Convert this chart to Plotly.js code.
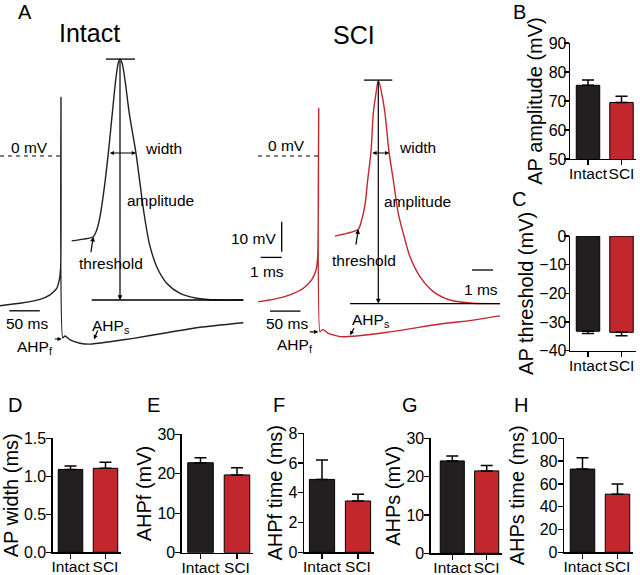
<!DOCTYPE html>
<html><head><meta charset="utf-8">
<script src="https://cdn.plot.ly/plotly-3.0.1.min.js"></script>
<style>html,body{margin:0;padding:0;background:#fff}</style>
</head><body><div id="chart" style="width:640px;height:575px"></div>
<script>
// ---- Panel A traces: time (ms, relative to spike / peak) and voltage (mV) ----
const intactSlowT = [-100,-67.2,-34.4,-18.0,-7.0,-2.8,-0.5,0,2.8,6.6,14.8,31.1,47.5,80.3,118.5,173.3,227.9,298.9];
const intactSlowV = [-49.9,-49.1,-47.8,-46.3,-44.1,-41.3,-36.9,19.6,-60.6,-60.0,-61.3,-62.4,-62.7,-61.9,-60.8,-58.9,-57.1,-55.6];
const intactFastT = [-2.300,-1.748,-1.271,-1.110,-0.952,-0.762,-0.557,-0.367,-0.205,-0.081,0,0.095,0.238,0.443,0.762,0.952,1.143,1.395,1.748,2.224,2.857,3.652,4.605,5.871];
const intactFastV = [-28.3,-27.7,-26.9,-24.7,-20.2,-11.3,0.9,14.2,25.3,31.1,32.3,31.1,25.3,14.2,0.9,-9.1,-19.1,-29.1,-36.9,-42.4,-45.8,-47.4,-48.0,-48.0];
const sciSlowT = [-99.0,-74.4,-47.0,-25.2,-11.5,-4.4,-1.6,0,2.1,6.6,15.7,34.9,62.3,100.5,144.3,198.9,253.4,297.2];
const sciSlowV = [-48.6,-47.8,-46.3,-44.1,-41.3,-38.0,-33.6,15.9,-58.6,-57.8,-59.1,-60.2,-60.0,-59.1,-57.8,-56.0,-54.7,-53.3];
const sciFastT = [-2.062,-1.505,-0.952,-0.790,-0.633,-0.505,-0.348,-0.238,-0.110,0,0.162,0.319,0.510,0.714,0.952,1.190,1.510,1.986,2.619,3.414,4.524,5.795];
const sciFastV = [-26.7,-25.8,-24.4,-21.3,-16.3,-8.0,1.4,14.2,20.9,25.3,20.9,14.2,1.4,-8.0,-19.1,-25.8,-33.6,-40.2,-45.2,-48.0,-49.1,-49.2];
const intactThresholdIdx = 2;
const sciThresholdIdx = 2;

// ---- Bar panels (mean, SEM) ----
const groups = ['Intact','SCI'];
const apAmplitude = [75.4, 69.5];      const apAmplitudeErr = [1.8, 2.1];
const apThreshold = [-33.2, -33.6];    const apThresholdErr = [0.8, 1.2];
const apWidth = [1.09, 1.105];         const apWidthErr = [0.045, 0.08];
const ahpf = [22.8, 19.7];             const ahpfErr = [1.25, 1.8];
const ahpfTime = [4.9, 3.45];          const ahpfTimeErr = [1.3, 0.45];
const ahps = [24.1, 21.5];             const ahpsErr = [1.3, 1.4];
const ahpsTime = [73, 51];             const ahpsTimeErr = [10, 9];

const W = 640, H = 575;
const px = x => x / W, py = y => 1 - y / H;
const BLACK = '#231f20', RED = '#c1272d';
const FONT = 'Liberation Sans, Arial, sans-serif';

// Panel A axes: pixel anchors for scales (0.61 px/ms slow, 21 px/ms fast, 3 px/mV)
const slowPx = 0.61, fastPx = 21;
function tAxis(t0px, k) { return {range: [-t0px / k, (W - t0px) / k], domain: [0, 1], visible: false, fixedrange: true}; }

const data = [
  {x: intactSlowT, y: intactSlowV, xaxis: 'x', yaxis: 'y', type: 'scatter', mode: 'lines',
   line: {color: BLACK, width: 1.4, shape: 'spline', smoothing: 0.5}, hoverinfo: 'skip'},
  {x: intactFastT, y: intactFastV, xaxis: 'x3', yaxis: 'y', type: 'scatter', mode: 'lines',
   line: {color: BLACK, width: 1.4, shape: 'spline', smoothing: 0.8}, hoverinfo: 'skip'},
  {x: sciSlowT, y: sciSlowV, xaxis: 'x2', yaxis: 'y', type: 'scatter', mode: 'lines',
   line: {color: RED, width: 1.4, shape: 'spline', smoothing: 0.5}, hoverinfo: 'skip'},
  {x: sciFastT, y: sciFastV, xaxis: 'x4', yaxis: 'y', type: 'scatter', mode: 'lines',
   line: {color: RED, width: 1.4, shape: 'spline', smoothing: 0.8}, hoverinfo: 'skip'}
];

const layout = {
  width: W, height: H, margin: {l: 0, r: 0, t: 0, b: 0},
  paper_bgcolor: '#fff', plot_bgcolor: 'rgba(0,0,0,0)', showlegend: false,
  font: {family: FONT, color: '#000', size: 15.5},
  xaxis: tAxis(61, slowPx),
  xaxis2: Object.assign(tAxis(318.7, slowPx), {overlaying: 'x', anchor: 'y'}),
  xaxis3: Object.assign(tAxis(120, fastPx), {overlaying: 'x', anchor: 'y'}),
  xaxis4: Object.assign(tAxis(378.3, fastPx), {overlaying: 'x', anchor: 'y'}),
  yaxis: {range: [-(H - 156) / 3, 156 / 3], domain: [0, 1], visible: false, fixedrange: true},
  shapes: [], annotations: []
};

// ---- Bar panels ----
const panels = [
  {letter: 'B', lp: [519, 12], vals: apAmplitude, err: apAmplitudeErr, neg: false, left: 570, c0: 588, c1: 621.5, ytop: 43, ybot: 159, yr: [50, 90], dtick: 10, fmt: '', title: 'AP amplitude (mV)', so: -6},
  {letter: 'C', lp: [519, 199], vals: apThreshold, err: apThresholdErr, neg: true, left: 570, c0: 588, c1: 621.5, ytop: 236, ybot: 350.7, yr: [-40, 0], dtick: 10, fmt: '', title: 'AP threshold (mV)', so: -6},
  {letter: 'D', lp: [15, 405], vals: apWidth, err: apWidthErr, neg: false, left: 52.7, c0: 70.5, c1: 105.5, ytop: 438.3, ybot: 552.3, yr: [0, 1.5], dtick: 0.5, fmt: '.1f', title: 'AP width (ms)', so: -3},
  {letter: 'E', lp: [153, 405], vals: ahpf, err: ahpfErr, neg: false, left: 181.7, c0: 200.5, c1: 237, ytop: 434.3, ybot: 552.7, yr: [0, 30], dtick: 10, fmt: '', title: 'AHPf (mV)', so: -3},
  {letter: 'F', lp: [279, 405], vals: ahpfTime, err: ahpfTimeErr, neg: false, left: 304, c0: 322, c1: 358, ytop: 433.3, ybot: 552.3, yr: [0, 8], dtick: 2, fmt: '', title: 'AHPf time (ms)', so: -3},
  {letter: 'G', lp: [410, 405], vals: ahps, err: ahpsErr, neg: false, left: 430.7, c0: 452.3, c1: 486.7, ytop: 438.3, ybot: 553.3, yr: [0, 30], dtick: 10, fmt: '', title: 'AHPs (mV)', so: -3},
  {letter: 'H', lp: [521, 405], vals: ahpsTime, err: ahpsTimeErr, neg: false, left: 564, c0: 582.5, c1: 617.5, ytop: 438.3, ybot: 552.3, yr: [0, 100], dtick: 20, fmt: '', title: 'AHPs time (ms)', so: -3}
];

panels.forEach((p, i) => {
  const xi = i + 5, yi = i + 2;
  const sp = p.c1 - p.c0;
  const lo = -(p.c0 - p.left) / sp, hi = 1.44;
  layout['xaxis' + xi] = {
    domain: [px(p.left), px(p.c1 + (hi - 1) * sp)], range: [lo, hi], type: 'category',
    anchor: 'y' + yi, showline: true, linecolor: '#000', linewidth: 1.3,
    ticks: 'outside', ticklen: 5, tickwidth: 1.3, tickcolor: '#000', tickangle: 0, ticklabelstandoff: -5,
    tickfont: {size: 15.5, color: '#000'}, showgrid: false, zeroline: false, fixedrange: true
  };
  layout['yaxis' + yi] = {
    domain: [py(p.ybot), py(p.ytop)], range: p.yr, anchor: 'x' + xi,
    showline: true, linecolor: '#000', linewidth: 1.3,
    ticks: 'outside', ticklen: 5, tickwidth: 1.3, tickcolor: '#000', dtick: p.dtick, tick0: 0,
    ticklabelstandoff: p.so,
    tickformat: p.fmt, tickfont: {size: 16, color: '#000'}, showgrid: false, zeroline: false, fixedrange: true,
    title: {text: p.title, font: {size: 20, color: '#000'}, standoff: 0}
  };
  const zeros = p.vals.map(() => 0);
  data.push({
    type: 'bar', x: groups, y: p.vals, xaxis: 'x' + xi, yaxis: 'y' + yi, width: 0.7,
    marker: {color: [BLACK, RED], line: {color: '#000', width: 1}},
    error_y: {type: 'data', symmetric: false, array: p.neg ? zeros : p.err, arrayminus: p.neg ? p.err : zeros,
              color: '#000', thickness: 1.5, width: 6},
    hoverinfo: 'skip'
  });
  layout.annotations.push({text: p.letter, xref: 'paper', yref: 'paper', x: px(p.lp[0]), y: py(p.lp[1]),
    xanchor: 'center', yanchor: 'middle', showarrow: false, font: {size: 20}});
});

// ---- Panel A shapes & annotations ----
const sh = layout.shapes, an = layout.annotations;
function crossing(T, V, level) {
  const out = [];
  for (let k = 0; k < T.length - 1; k++) {
    if ((V[k] - level) * (V[k + 1] - level) <= 0 && V[k] !== V[k + 1]) {
      out.push(T[k] + (level - V[k]) * (T[k + 1] - T[k]) / (V[k + 1] - V[k]));
    }
  }
  return out;
}
function lineShape(xref, x0, x1, y0, y1, extra) {
  sh.push(Object.assign({type: 'line', xref: xref, yref: 'y', x0: x0, x1: x1, y0: y0, y1: y1,
    line: {color: '#000', width: 1.3}}, extra || {}));
}
function txt(text, x, y, anchor, size) {
  an.push({text: text, xref: 'paper', yref: 'paper', x: px(x), y: py(y), xanchor: anchor || 'left',
    yanchor: 'middle', showarrow: false, font: {size: size || 15.5}});
}
function arrow(xref, x, y, ax, ay, extra) {
  an.push(Object.assign({text: '', xref: xref, yref: 'y', x: x, y: y, ax: ax, ay: ay, showarrow: true,
    arrowhead: 2, arrowsize: 0.8, arrowwidth: 1.2, arrowcolor: '#000', standoff: 0, startstandoff: 0}, extra || {}));
}

function decorate(slowX, fastX, T, V, thrIdx, peakHalf, baseStart) {
  const peakV = Math.max(...V), peakT = T[V.indexOf(peakV)];
  const baseV = V[V.length - 1];
  lineShape(fastX, peakT - peakHalf[0], peakT + peakHalf[1], peakV, peakV);
  lineShape(fastX, baseStart, T[T.length - 1], baseV, baseV);
  arrow(fastX, peakT, baseV, peakT, peakV, {axref: fastX, ayref: 'y'});
  const wLevel = 1;
  const c = crossing(T, V, wLevel);
  arrow(fastX, c[c.length - 1], wLevel, c[0], wLevel, {axref: fastX, ayref: 'y', arrowside: 'end+start', arrowsize: 0.7});
  arrow(fastX, T[thrIdx], V[thrIdx], -2.6, 17);
}
decorate('x', 'x3', intactFastT, intactFastV, intactThresholdIdx, [0.667, 0.714], -1.348);
decorate('x2', 'x4', sciFastT, sciFastV, sciThresholdIdx, [0.681, 0.667], -1.348);

// 0 mV dashed lines
lineShape('x', -100, 0, 0, 0, {line: {color: '#000', width: 1.2, dash: '4px,4px'}});
lineShape('x2', -99.5, 0, 0, 0, {line: {color: '#000', width: 1.2, dash: '4px,4px'}});
// scale bars: 50 ms (slow), 10 mV and 1 ms (fast)
lineShape('x', -84.8, -34.8, -51.6, -51.6);
lineShape('x2', -79.8, -29.8, -51.7, -51.7);
lineShape('x4', -4.6, -4.6, -21.9, -31.9);
lineShape('x4', -5.6, -4.6, -33.8, -33.8);
lineShape('x4', 4.46, 5.46, -38, -38);

// AHP arrows
arrow('x', 1.15, -61, -8.4, 0, {arrowsize: 0.7});
arrow('x', 54.1, -61.1, 4.3, -10.3, {arrowsize: 0.7});
arrow('x2', -0.66, -58.6, -10, 0, {arrowsize: 0.7});
arrow('x2', 51.3, -59.7, 5, -8.3, {arrowsize: 0.7});

// texts
txt('A', 25, 12, 'center', 20);
txt('Intact', 89, 33, 'center', 25);
txt('SCI', 354, 35, 'center', 25);
txt('0 mV', 29, 147, 'center');
txt('width', 143, 148);
txt('amplitude', 125, 200);
txt('threshold', 77, 263);
txt('10 mV', 278, 238, 'right');
txt('1 ms', 267, 271, 'center');
txt('1 ms', 481, 289, 'center');
txt('50 ms', 26.5, 323, 'center');
txt('AHP<sub>f</sub>', 15, 347);
txt('AHP<sub>s</sub>', 90, 326);
txt('0 mV', 286, 146, 'center');
txt('width', 397, 147);
txt('amplitude', 382, 202);
txt('threshold', 330, 260);
txt('50 ms', 286.5, 323, 'center');
txt('AHP<sub>f</sub>', 275, 346);
txt('AHP<sub>s</sub>', 350, 320);

Plotly.newPlot('chart', data, layout, {displayModeBar: false, staticPlot: true});
</script></body></html>
